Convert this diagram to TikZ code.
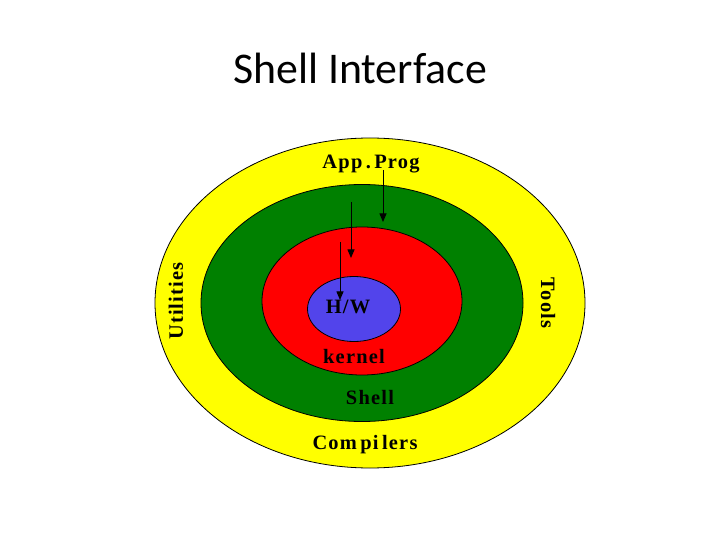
\documentclass[tikz,border=0pt]{standalone}
\usepackage{fontspec}
\setmainfont{Liberation Serif}
\newfontfamily\titlefont{Carlito}
\newfontfamily\lblfont[LetterSpace=6]{Liberation Serif}
\usepackage{xcolor}
\usepackage{tikz}
\usetikzlibrary{shapes,arrows,positioning}

\definecolor{layeryellow}{RGB}{255,255,0}
\definecolor{layergreen}{RGB}{0,128,0}
\definecolor{layerred}{RGB}{255,0,0}
\definecolor{layerblue}{RGB}{82,68,235}

\begin{document}
\begin{tikzpicture}[
  x=1bp, y=-1bp,
  layer/.style={ellipse, draw, line width=0.8pt, inner sep=0pt},
  lbl/.style={font=\lblfont\bfseries\fontsize{20.5}{22}\selectfont},
  arrow/.style={-triangle 45, line width=1pt}
]
\useasboundingbox (0,0) rectangle (720,540);
\node[font=\titlefont\fontsize{44}{50}\selectfont] (title) at (360,68) {Shell Interface};
% layers, from outside in
\node[layer, fill=layeryellow, minimum width=430bp, minimum height=330bp] (outer) at (370,303) {};
\node[layer, fill=layergreen, minimum width=322bp, minimum height=237bp] (shell) at (362,303) {};
\node[layer, fill=layerred, minimum width=200bp, minimum height=148bp] (kern) at (362,301) {};
\node[layer, fill=layerblue, minimum width=93bp, minimum height=65bp] (hw) at (354,309) {};
% labels
\node[lbl] (app) at (371,164) {App\,.\,Prog};
\node[lbl] (comp) at (365,445) {Com\,pi\,lers};
\node[lbl] (shl) at (370,398) {Shell};
\node[lbl] (kl) at (354,357) {kernel};
\node[lbl] (hwl) at (348,307) {H/W};
\node[lbl, rotate=90] (util) at (176,301) {Utilities};
\node[lbl, rotate=-90] (tools) at (548,303) {Tools};
% calls going inwards
\coordinate (a1) at (383,170);
\coordinate (b1) at (383,222);
\coordinate (a2) at (351,202);
\coordinate (b2) at (351,258);
\coordinate (a3) at (340,242);
\coordinate (b3) at (340,300);
\draw[arrow] (a1) -- (b1);
\draw[arrow] (a2) -- (b2);
\draw[arrow] (a3) -- (b3);
\end{tikzpicture}
\end{document}
